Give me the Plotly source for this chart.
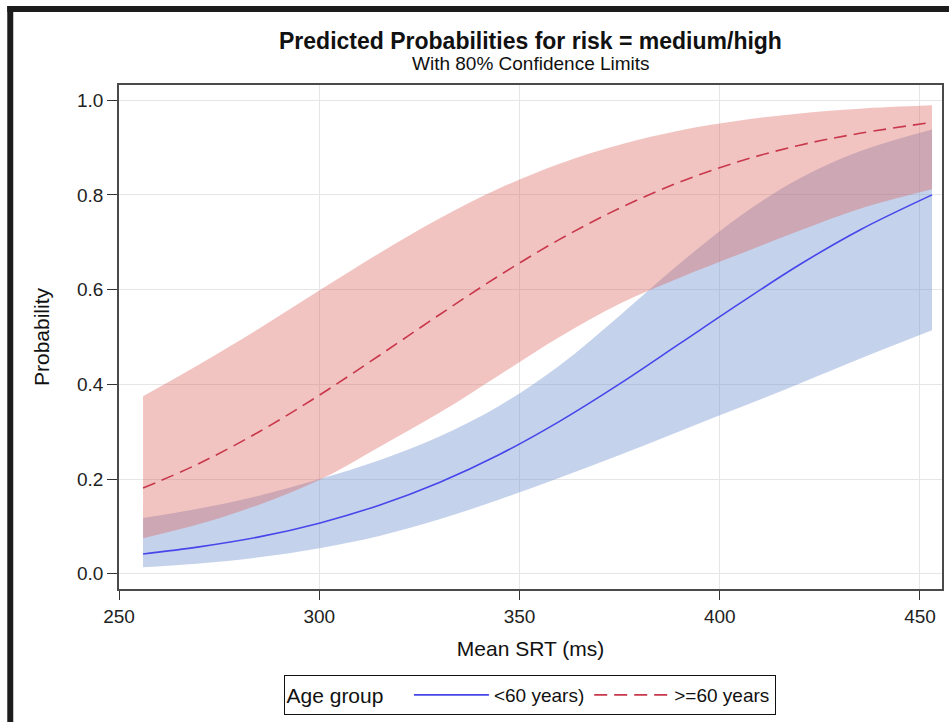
import plotly.graph_objects as go

# ---- data ----
srt = [256, 270, 285, 300, 315, 330, 345, 360, 375, 390, 405, 420, 435, 453]

young_pred  = [0.042, 0.057, 0.078, 0.107, 0.145, 0.193, 0.252, 0.322, 0.401, 0.486, 0.571, 0.653, 0.726, 0.800]
young_lower = [0.014, 0.022, 0.035, 0.054, 0.080, 0.115, 0.157, 0.203, 0.251, 0.301, 0.351, 0.402, 0.454, 0.514]
young_upper = [0.118, 0.138, 0.165, 0.200, 0.240, 0.290, 0.355, 0.440, 0.545, 0.655, 0.755, 0.835, 0.892, 0.938]

old_pred  = [0.181, 0.233, 0.300, 0.377, 0.461, 0.547, 0.630, 0.706, 0.772, 0.827, 0.871, 0.905, 0.930, 0.953]
old_lower = [0.075, 0.105, 0.146, 0.198, 0.268, 0.340, 0.420, 0.500, 0.570, 0.625, 0.675, 0.725, 0.771, 0.812]
old_upper = [0.375, 0.442, 0.518, 0.598, 0.677, 0.750, 0.814, 0.866, 0.906, 0.936, 0.957, 0.972, 0.982, 0.989]

x_ticks = [250, 300, 350, 400, 450]
y_ticks = [0.0, 0.2, 0.4, 0.6, 0.8, 1.0]
y_tick_text = ["0.0", "0.2", "0.4", "0.6", "0.8", "1.0"]

FONT = "Arial, 'Liberation Sans', Helvetica, sans-serif"
W, H = 951, 722
L, R, T, B = 119, 7, 85, 133
PW, PH = W - L - R, H - T - B

def px_x(p):
    return (p - L) / PW

def px_y(p):
    return (H - B - p) / PH

fig = go.Figure()

# confidence bands
fig.add_trace(go.Scatter(x=srt, y=young_lower, mode="lines", line=dict(width=0, shape="spline"),
                         showlegend=False, hoverinfo="skip"))
fig.add_trace(go.Scatter(x=srt, y=young_upper, mode="lines", line=dict(width=0, shape="spline"),
                         fill="tonexty", fillcolor="rgba(110,143,205,0.40)",
                         showlegend=False, hoverinfo="skip"))
fig.add_trace(go.Scatter(x=srt, y=old_lower, mode="lines", line=dict(width=0, shape="spline"),
                         showlegend=False, hoverinfo="skip"))
fig.add_trace(go.Scatter(x=srt, y=old_upper, mode="lines", line=dict(width=0, shape="spline"),
                         fill="tonexty", fillcolor="rgba(218,92,82,0.36)",
                         showlegend=False, hoverinfo="skip"))

# predicted lines
fig.add_trace(go.Scatter(x=srt, y=young_pred, mode="lines", name="<60 years)",
                         line=dict(color="rgb(70,70,235)", width=1.6, shape="spline")))
fig.add_trace(go.Scatter(x=srt, y=old_pred, mode="lines", name=">=60 years",
                         line=dict(color="rgb(200,55,75)", width=1.6, shape="spline", dash="13px,7px")))

axis_common = dict(showline=True, linecolor="#4a4a4a", linewidth=1.5, mirror=True,
                   showgrid=True, gridcolor="#e6e6e6", gridwidth=1, zeroline=False,
                   ticks="outside", tickcolor="#333", tickfont=dict(family=FONT, size=19, color="#222"))

fig.update_xaxes(range=[250, 455.5], tickvals=x_ticks, ticklen=9,
                 title=dict(text="Mean SRT (ms)", font=dict(family=FONT, size=21, color="#111"), standoff=16),
                 **axis_common)
fig.update_yaxes(range=[-0.032, 1.032], tickvals=y_ticks, ticktext=y_tick_text, ticklen=10,
                 title=dict(text="Probability", font=dict(family=FONT, size=21, color="#111"), standoff=22),
                 **axis_common)

# outer dark frame (left and top edges)
frame = "#1c1c1c"
fig.add_shape(type="rect", xref="paper", yref="paper", x0=px_x(7), x1=px_x(13), y0=px_y(722), y1=px_y(6),
              fillcolor=frame, line=dict(width=0), layer="above")
fig.add_shape(type="rect", xref="paper", yref="paper", x0=px_x(7), x1=px_x(951), y0=px_y(12), y1=px_y(6),
              fillcolor=frame, line=dict(width=0), layer="above")

# titles
fig.add_annotation(text="<b>Predicted Probabilities for risk = medium/high</b>", xref="paper", yref="paper",
                   x=0.5, y=px_y(41), xanchor="center", yanchor="middle", showarrow=False,
                   font=dict(family=FONT, size=23, color="#111"))
fig.add_annotation(text="With 80% Confidence Limits", xref="paper", yref="paper",
                   x=0.5, y=px_y(64), xanchor="center", yanchor="middle", showarrow=False,
                   font=dict(family=FONT, size=19, color="#111"))

fig.update_layout(
    width=W, height=H,
    margin=dict(l=L, r=R, t=T, b=B),
    paper_bgcolor="white", plot_bgcolor="white",
    font=dict(family=FONT, color="#111"),
    legend=dict(orientation="h", x=px_x(530.5), xanchor="center", y=px_y(675), yanchor="top",
                bordercolor="#111", borderwidth=1, bgcolor="white", traceorder="normal",
                title=dict(text="Age group   ", font=dict(family=FONT, size=21, color="#111")),
                font=dict(family=FONT, size=19, color="#111"), itemwidth=75,
                tracegroupgap=0),
)

fig.write_html("out.html")
